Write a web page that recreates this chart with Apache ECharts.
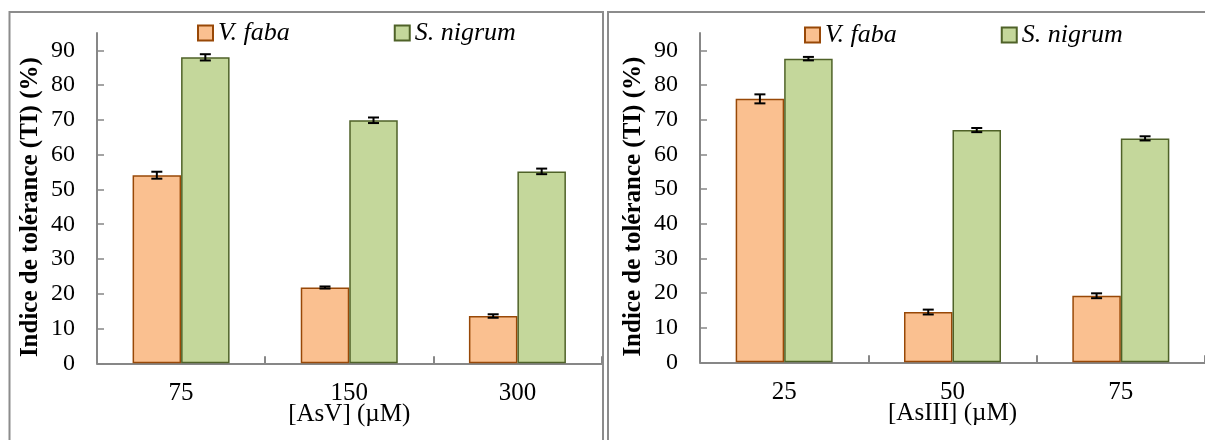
<!DOCTYPE html>
<html>
<head>
<meta charset="utf-8">
<script src="https://cdn.jsdelivr.net/npm/echarts@6/dist/echarts.min.js"></script>
<style>
html,body{margin:0;padding:0;background:#fff;}
#chart{width:1205px;height:440px;}
</style>
</head>
<body>
<div id="chart"></div>
<script>
// ---- data ----
const seriesNames = ['V. faba', 'S. nigrum'];
const catsAsV = ['75', '150', '300'];
const fabaAsV = [54.1, 21.8, 13.6];
const fabaAsVErr = [1.0, 0.3, 0.5];
const nigrumAsV = [88.0, 69.9, 55.2];
const nigrumAsVErr = [0.9, 0.8, 0.8];
const catsAsIII = ['25', '50', '75'];
const fabaAsIII = [76.0, 14.5, 19.2];
const fabaAsIIIErr = [1.3, 0.7, 0.7];
const nigrumAsIII = [87.6, 67.0, 64.6];
const nigrumAsIIIErr = [0.5, 0.6, 0.6];
const yTicks = [0, 10, 20, 30, 40, 50, 60, 70, 80, 90];
const xTitles = ['[AsV] (\u00b5M)', '[AsIII] (\u00b5M)'];
const yTitle = 'Indice de tol\u00e9rance (TI) (%)';

// ---- style ----
const FONT = '"Liberation Serif", "Times New Roman", serif';
const ORANGE = '#FAC090', ORANGE_B = '#984807';
const GREEN = '#C4D79B', GREEN_B = '#4F6228';
const AXIS = '#878787';
const BAR_W = 48.5;

const chart = echarts.init(document.getElementById('chart'), null, {renderer: 'canvas'});

function xAxis(idx, cats) {
  return {
    type: 'category', gridIndex: idx, data: cats,
    axisLine: {lineStyle: {color: AXIS, width: 2}},
    axisTick: {show: true, inside: true, length: 7, lineStyle: {color: AXIS, width: 2}},
    axisLabel: {margin: 18, fontFamily: FONT, fontSize: 25, color: '#000'},
    name: xTitles[idx], nameLocation: 'middle', nameGap: 39, nameMoveOverlap: false,
    nameTextStyle: {fontFamily: FONT, fontSize: 25, color: '#000'}
  };
}
function yAxis(idx) {
  return {
    type: 'value', gridIndex: idx, min: 0, max: 95, interval: 10,
    splitLine: {show: false},
    axisLine: {show: true, lineStyle: {color: AXIS, width: 2}},
    axisTick: {show: true, inside: true, length: 7, customValues: yTicks, lineStyle: {color: AXIS, width: 1.5}},
    axisLabel: {margin: 22, fontFamily: FONT, fontSize: 24, color: '#000', customValues: yTicks,
      formatter: v => (v % 10 === 0 ? String(v) : '')},
    name: yTitle, nameLocation: 'middle', nameRotate: 90, nameGap: 54, nameMoveOverlap: false,
    nameTextStyle: {fontFamily: FONT, fontSize: 25, fontWeight: 'bold', color: '#000', padding: [0, 18, 0, 0]}
  };
}
function bar(name, data, idx, color, border) {
  return {
    type: 'bar', name: name, xAxisIndex: idx, yAxisIndex: idx, data: data,
    barWidth: BAR_W, barGap: '0%',
    itemStyle: {color: color, borderColor: border, borderWidth: 1.5}
  };
}
function errBars(vals, errs, idx, side) {
  return {
    type: 'custom', xAxisIndex: idx, yAxisIndex: idx, z: 10, silent: true,
    data: vals.map((v, i) => [i, v, errs[i]]),
    renderItem: function (params, api) {
      const i = api.value(0), v = api.value(1), e = api.value(2);
      const hi = api.coord([i, v + e]);
      const lo = api.coord([i, v - e]);
      const x = hi[0] + side * BAR_W / 2;
      const cap = 5.5;
      const st = {stroke: '#000', lineWidth: 2};
      return {
        type: 'group', children: [
          {type: 'line', shape: {x1: x, y1: hi[1], x2: x, y2: lo[1]}, style: st},
          {type: 'line', shape: {x1: x - cap, y1: hi[1], x2: x + cap, y2: hi[1]}, style: st},
          {type: 'line', shape: {x1: x - cap, y1: lo[1], x2: x + cap, y2: lo[1]}, style: st}
        ]
      };
    }
  };
}
function legend(left, top) {
  return {
    left: left, top: top, padding: 0, itemWidth: 15, itemHeight: 15, itemGap: 104,
    icon: 'rect', data: seriesNames,
    textStyle: {fontFamily: FONT, fontSize: 26, fontStyle: 'italic', color: '#000'}
  };
}

chart.setOption({
  animation: false,
  backgroundColor: '#fff',
  textStyle: {fontFamily: FONT},
  graphic: [
    {type: 'rect', shape: {x: 9.5, y: 12, width: 593.5, height: 440}, style: {fill: 'none', stroke: '#8c8c8c', lineWidth: 2}, silent: true},
    {type: 'rect', shape: {x: 608, y: 12, width: 610, height: 440}, style: {fill: 'none', stroke: '#8c8c8c', lineWidth: 2}, silent: true}
  ],
  legend: [legend(197, 20), legend(804, 22)],
  grid: [
    {left: 97, top: 33, width: 504.5, height: 330.3},
    {left: 700, top: 33, width: 506, height: 329.3}
  ],
  xAxis: [xAxis(0, catsAsV), xAxis(1, catsAsIII)],
  yAxis: [yAxis(0), yAxis(1)],
  series: [
    bar(seriesNames[0], fabaAsV, 0, ORANGE, ORANGE_B),
    bar(seriesNames[1], nigrumAsV, 0, GREEN, GREEN_B),
    bar(seriesNames[0], fabaAsIII, 1, ORANGE, ORANGE_B),
    bar(seriesNames[1], nigrumAsIII, 1, GREEN, GREEN_B),
    errBars(fabaAsV, fabaAsVErr, 0, -1),
    errBars(nigrumAsV, nigrumAsVErr, 0, 1),
    errBars(fabaAsIII, fabaAsIIIErr, 1, -1),
    errBars(nigrumAsIII, nigrumAsIIIErr, 1, 1)
  ]
});
</script>
</body>
</html>
